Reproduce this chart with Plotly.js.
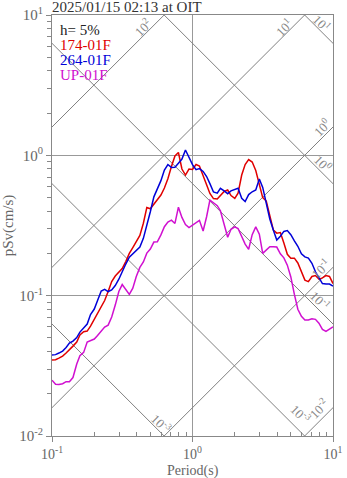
<!DOCTYPE html>
<html>
<head>
<meta charset="utf-8">
<script src="https://cdn.plot.ly/plotly-3.0.1.min.js"></script>
<style>
  html, body { margin: 0; padding: 0; background: #fff; }
  #chart { width: 347px; height: 478px; }
</style>
</head>
<body>
<div id="chart"></div>
<script>
// period grid (s)
var periods = [
  0.1, 0.106, 0.112, 0.119, 0.126, 0.133, 0.141, 0.150, 0.158, 0.168,
  0.178, 0.188, 0.200, 0.211, 0.224, 0.237, 0.251, 0.266, 0.282, 0.299,
  0.316, 0.335, 0.355, 0.376, 0.398, 0.422, 0.447, 0.473, 0.501, 0.531,
  0.562, 0.596, 0.631, 0.668, 0.708, 0.750, 0.794, 0.841, 0.891, 0.944,
  1.0, 1.06, 1.12, 1.19, 1.26, 1.33, 1.41, 1.50, 1.58, 1.68,
  1.78, 1.88, 2.00, 2.11, 2.24, 2.37, 2.51, 2.66, 2.82, 2.99,
  3.16, 3.35, 3.55, 3.76, 3.98, 4.22, 4.47, 4.73, 5.01, 5.31,
  5.62, 5.96, 6.31, 6.68, 7.08, 7.50, 7.94, 8.41, 8.91, 9.44, 10.0
];

// pSv (cm/s), 174-01F
var sv174 = [
  0.0348, 0.0350, 0.0359, 0.0371, 0.0390, 0.0410, 0.0437, 0.0467, 0.0524, 0.0553,
  0.0559, 0.0607, 0.0681, 0.0758, 0.0843, 0.0923, 0.107, 0.126, 0.138, 0.147,
  0.156, 0.175, 0.200, 0.220, 0.243, 0.269, 0.328, 0.425, 0.416, 0.447,
  0.476, 0.521, 0.585, 0.682, 0.832, 0.989, 1.047, 0.799, 0.724, 0.799,
  0.792, 0.860, 0.839, 0.726, 0.617, 0.535, 0.492, 0.488, 0.513, 0.553,
  0.566, 0.517, 0.494, 0.538, 0.724, 0.860, 0.933, 0.896, 0.779, 0.629,
  0.500, 0.472, 0.377, 0.294, 0.279, 0.282, 0.237, 0.197, 0.185, 0.185,
  0.171, 0.147, 0.129, 0.126, 0.137, 0.139, 0.131, 0.134, 0.139, 0.137, 0.122
];

// pSv (cm/s), 264-01F
var sv264 = [
  0.0377, 0.0380, 0.0390, 0.0403, 0.0427, 0.0459, 0.0475, 0.0503, 0.0550, 0.0588,
  0.0627, 0.0733, 0.0803, 0.0923, 0.108, 0.111, 0.107, 0.110, 0.118, 0.131,
  0.149, 0.168, 0.188, 0.199, 0.210, 0.222, 0.256, 0.312, 0.396, 0.506,
  0.579, 0.660, 0.786, 0.860, 0.820, 0.821, 0.878, 0.941, 1.091, 0.977,
  0.858, 0.791, 0.805, 0.768, 0.706, 0.629, 0.548, 0.538, 0.582, 0.558,
  0.533, 0.558, 0.571, 0.582, 0.494, 0.469, 0.525, 0.550, 0.566, 0.679,
  0.591, 0.452, 0.352, 0.294, 0.249, 0.265, 0.287, 0.291, 0.272, 0.246,
  0.225, 0.199, 0.189, 0.185, 0.170, 0.148, 0.133, 0.122, 0.121, 0.121, 0.117
];

// pSv (cm/s), UP-01F
var svUP = [
  0.0250, 0.0234, 0.0233, 0.0236, 0.0244, 0.0244, 0.0261, 0.0326, 0.0374, 0.0394,
  0.0467, 0.0478, 0.0491, 0.0520, 0.0562, 0.0597, 0.0617, 0.0704, 0.0857, 0.107,
  0.120, 0.111, 0.102, 0.113, 0.137, 0.159, 0.174, 0.201, 0.215, 0.241,
  0.242, 0.271, 0.310, 0.335, 0.345, 0.327, 0.427, 0.361, 0.321, 0.306,
  0.319, 0.330, 0.344, 0.289, 0.365, 0.480, 0.456, 0.438, 0.403, 0.321,
  0.261, 0.297, 0.309, 0.301, 0.266, 0.233, 0.214, 0.272, 0.309, 0.274,
  0.200, 0.213, 0.223, 0.223, 0.222, 0.199, 0.186, 0.165, 0.136, 0.102,
  0.0800, 0.0712, 0.0670, 0.0670, 0.0685, 0.0678, 0.0636, 0.0575, 0.0556, 0.0578, 0.0600
];

// tripartite guide levels
var accLevels = [0.01, 0.1, 1, 10, 100];      // Sa (cm/s2)
var dispLevels = [0.001, 0.01, 0.1, 1, 10];   // Sd (cm)

var serif = "Liberation Serif, Times New Roman, serif";
var guideColor = "#808080";
var tEnds = [0.1, 10];
var data = [];

accLevels.forEach(function(sa) {
  data.push({
    x: tEnds,
    y: tEnds.map(function(t) { return sa * t / (2 * Math.PI); }),
    mode: "lines", line: { color: guideColor, width: 1 }, hoverinfo: "skip"
  });
});
dispLevels.forEach(function(sd) {
  data.push({
    x: tEnds,
    y: tEnds.map(function(t) { return sd * 2 * Math.PI / t; }),
    mode: "lines", line: { color: guideColor, width: 1 }, hoverinfo: "skip"
  });
});

data.push({ x: periods, y: svUP, mode: "lines", name: "UP-01F", line: { color: "#d010d0", width: 1.5 } });
data.push({ x: periods, y: sv174, mode: "lines", name: "174-01F", line: { color: "#e00000", width: 1.5 } });
data.push({ x: periods, y: sv264, mode: "lines", name: "264-01F", line: { color: "#0000d8", width: 1.5 } });

var minorX = [0.2, 0.3, 0.4, 0.5, 0.6, 0.7, 0.8, 0.9, 2, 3, 4, 5, 6, 7, 8, 9];
var minorY = [0.02, 0.03, 0.04, 0.05, 0.06, 0.07, 0.08, 0.09,
              0.2, 0.3, 0.4, 0.5, 0.6, 0.7, 0.8, 0.9, 2, 3, 4, 5, 6, 7, 8, 9];

// labels of guide lines (text, paper x, paper y, angle)
var guideLabels = [
  ["10<sup>2</sup>", 0.324, 0.971, -45],
  ["10<sup>1</sup>", 0.826, 0.971, -45],
  ["10<sup>1</sup>", 0.961, 0.981, 45],
  ["10<sup>0</sup>", 0.961, 0.734, -45],
  ["10<sup>0</sup>", 0.964, 0.648, 45],
  ["10<sup>-1</sup>", 0.957, 0.399, -45],
  ["10<sup>-1</sup>", 0.954, 0.323, 45],
  ["10<sup>-3</sup>", 0.388, 0.031, 45],
  ["10<sup>-3</sup>", 0.886, 0.052, 45],
  ["10<sup>-2</sup>", 0.950, 0.067, -45]
];

var annotations = guideLabels.map(function(g) {
  return {
    text: g[0], x: g[1], y: g[2], xref: "paper", yref: "paper",
    xanchor: "center", yanchor: "middle",
    showarrow: false, textangle: g[3],
    font: { family: serif, size: 13, color: "#888" }
  };
});

var legendText = [
  ["h= 5%", "#222", 0.964],
  ["174-01F", "#e00000", 0.929],
  ["264-01F", "#0000d8", 0.893],
  ["UP-01F", "#d010d0", 0.857]
];
legendText.forEach(function(l) {
  annotations.push({
    text: l[0], x: 0.02, y: l[2], xref: "paper", yref: "paper",
    xanchor: "left", yanchor: "middle", showarrow: false,
    font: { family: serif, size: 15, color: l[1] }
  });
});

// x axis title, placed below the tick labels
annotations.push({
  text: "Period(s)", x: 0.5, y: -0.084, xref: "paper", yref: "paper",
  xanchor: "center", yanchor: "middle", showarrow: false,
  font: { family: serif, size: 14, color: "#666" }
});

var layout = {
  width: 347,
  height: 478,
  margin: { l: 52, r: 14, t: 15, b: 42, pad: 0 },
  paper_bgcolor: "#fff",
  plot_bgcolor: "#fff",
  showlegend: false,
  font: { family: serif, color: "#666" },
  title: {
    text: "2025/01/15 02:13 at OIT",
    x: 0, xref: "paper", xanchor: "left",
    y: 0.985, yref: "container", yanchor: "middle",
    font: { family: serif, size: 15, color: "#333" }
  },
  xaxis: {
    type: "log", range: [-1, 1],
    tickvals: [0.1, 1, 10],
    ticktext: ["10<sup>-1</sup>", "10<sup>0</sup>", "10<sup>1</sup>"],
    ticks: "outside", ticklen: 5, tickcolor: "#888",
    showgrid: true, gridcolor: "#999", gridwidth: 1,
    showline: true, linecolor: "#888", mirror: true,
    zeroline: false,
    tickfont: { family: serif, size: 14, color: "#666" },
    minor: { tickvals: minorX, ticks: "inside", ticklen: 4, tickcolor: "#888", showgrid: false }
  },
  yaxis: {
    type: "log", range: [-2, 1],
    tickvals: [0.01, 0.1, 1, 10],
    ticktext: ["10<sup>-2</sup>", "10<sup>-1</sup>", "10<sup>0</sup>", "10<sup>1</sup>"],
    ticks: "outside", ticklen: 5, tickcolor: "#888",
    showgrid: true, gridcolor: "#999", gridwidth: 1,
    showline: true, linecolor: "#888", mirror: true,
    zeroline: false,
    tickfont: { family: serif, size: 15, color: "#666" },
    minor: { tickvals: minorY, ticks: "outside", ticklen: 4, tickcolor: "#888", showgrid: false },
    title: { text: "pSv(cm/s)", font: { family: serif, size: 15, color: "#666" }, standoff: 4 }
  },
  annotations: annotations
};

Plotly.newPlot("chart", data, layout, { displayModeBar: false, staticPlot: true });
</script>
</body>
</html>
